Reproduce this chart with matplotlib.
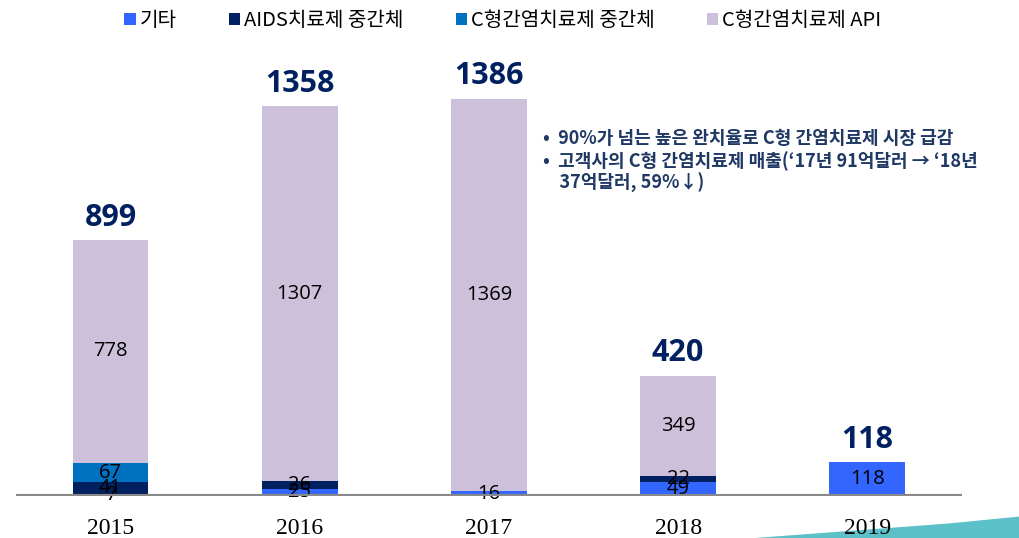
import numpy as np
import matplotlib.pyplot as plt
from matplotlib.patches import Polygon

plt.rcParams['font.family'] = ['Noto Sans CJK KR', 'DejaVu Sans']

years = ['2015', '2016', '2017', '2018', '2019']
series_names = ['기타', 'AIDS치료제 중간체', 'C형간염치료제 중간체', 'C형간염치료제 API']
etc = [7, 25, 16, 49, 118]
aids_mid = [41, 26, 0, 22, 0]
hcv_mid = [67, 0, 0, 0, 0]
hcv_api = [778, 1307, 1369, 349, 0]
totals = [899, 1358, 1386, 420, 118]
colors = ['#3366FF', '#002060', '#0070C0', '#CCC0DA']

note_lines = ['•  90%가 넘는 높은 완치율로 C형 간염치료제 시장 급감',
              '•  고객사의 C형 간염치료제 매출(‘17년 91억달러 → ‘18년',
              '    37억달러, 59%↓)']

fig = plt.figure(figsize=(10.2, 5.38), dpi=100)

# decorative swoosh in the bottom-right corner, kept behind the axes
fig.patches.append(Polygon([[0.74, 0.0], [1.0, 0.0], [1.0, 0.04], [0.93, 0.027]],
                           closed=True, transform=fig.transFigure, zorder=-1,
                           facecolor='#5BC0C8', edgecolor='none'))

ax = fig.add_axes([0.0157, 0.078, 0.9273, 0.80])
ax.patch.set_alpha(0)

x = np.arange(len(years))
bottom = np.zeros(len(years))
for name, vals, col in zip(series_names, [etc, aids_mid, hcv_mid, hcv_api], colors):
    vals = np.array(vals, dtype=float)
    ax.bar(x, vals, 0.4, bottom=bottom, color=col, label=name)
    for xi, b, v in zip(x, bottom, vals):
        if v > 0:
            ax.text(xi, b + v / 2, f'{int(v)}', ha='center', va='center',
                    fontsize=14.5, color='black', family=['Open Sans', 'DejaVu Sans'])
    bottom += vals

for xi, t, top in zip(x, totals, bottom):
    ax.text(xi, top + 25, str(t), ha='center', va='bottom', fontsize=22,
            fontweight='bold', color='#002060', family=['Open Sans', 'DejaVu Sans'])

ax.set_xlim(-0.5, 4.5)
ax.set_ylim(0, 1500)
ax.axhline(0, color='#898989', lw=3, zorder=5)
for s in ax.spines.values():
    s.set_visible(False)
ax.set_yticks([])
ax.set_xticks(x)
ax.set_xticklabels(years, fontsize=17, family='Liberation Serif')
ax.tick_params(axis='x', length=0, pad=16)

leg = fig.legend(loc='upper center', bbox_to_anchor=(0.493, 1.015), ncol=4, frameon=False,
                 fontsize=14.5, handlelength=0.55, handleheight=0.55, handletextpad=0.2,
                 columnspacing=2.6)

for i, line in enumerate(note_lines):
    fig.text(0.532, 1 - (139 + i * 22) / 538, line, fontsize=13, fontweight='bold',
             color='#1F3864', va='center', ha='left')

fig.savefig('out.png', dpi=100)
